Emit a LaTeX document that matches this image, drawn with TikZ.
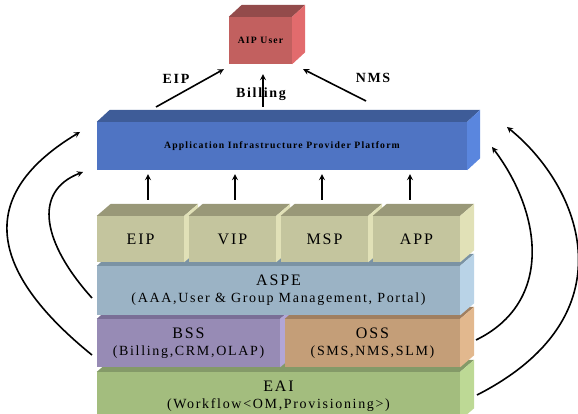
\documentclass[tikz,border=0pt]{standalone}
\usepackage{fontspec}
\setmainfont{Liberation Serif}
\newfontfamily\spacedfont[LetterSpace=12]{Liberation Serif}
\usetikzlibrary{positioning}

\definecolor{aipfront}{HTML}{C2605F}
\definecolor{aiptop}{HTML}{934B4B}
\definecolor{aipside}{HTML}{E26B6D}
\definecolor{apffront}{HTML}{4F74C3}
\definecolor{apftop}{HTML}{3E5C98}
\definecolor{apfside}{HTML}{5A86DE}
\definecolor{rowfront}{HTML}{C4C59E}
\definecolor{rowtop}{HTML}{999878}
\definecolor{rowside}{HTML}{E1E1B7}
\definecolor{aspefront}{HTML}{9BB3C5}
\definecolor{aspetop}{HTML}{7B93A4}
\definecolor{aspeside}{HTML}{B9D3E7}
\definecolor{bssfront}{HTML}{978BB5}
\definecolor{bsstop}{HTML}{7A6E96}
\definecolor{bssside}{HTML}{B2A6D6}
\definecolor{ossfront}{HTML}{C49E78}
\definecolor{osstop}{HTML}{A07F60}
\definecolor{ossside}{HTML}{E2B88E}
\definecolor{eaifront}{HTML}{A3BD7E}
\definecolor{eaitop}{HTML}{849A68}
\definecolor{eaiside}{HTML}{BDD995}

\newcommand{\bigtxt}{\fontsize{16}{20}\selectfont}
\newcommand{\smalltxt}{\fontsize{14}{18}\selectfont}
\newcommand{\toptxt}{\fontsize{14}{16}\selectfont\bfseries}
\newcommand{\tinytxt}{\fontsize{9.7}{12}\selectfont\bfseries}

\tikzstyle{layer} = [rectangle, inner sep=0pt, text centered, align=center, font=\spacedfont, minimum width=363pt, minimum height=48pt]
\tikzstyle{rowbox} = [rectangle, inner sep=0pt, text centered, font=\spacedfont\bigtxt, minimum width=87pt, minimum height=46pt, fill=rowfront]
\tikzstyle{arr} = [line width=1.6pt,->,>=stealth]

\begin{document}
\begin{tikzpicture}[x=1pt,y=1pt,node distance=92pt]
\useasboundingbox (0,0) rectangle (578,414);
\clip (0,0) rectangle (578,414);

% EAI
\node (eai) [layer, fill=eaifront] at (278.5,18) {\bigtxt EAI\\[5pt]\smalltxt (Workflow<OM,Provisioning>)};
\fill[eaitop] (eai.north west) -- ++(14,12) -- ([shift={(14,12)}]eai.north east) -- (eai.north east) -- cycle;
\fill[eaiside] (eai.north east) -- ++(14,12) -- ([shift={(14,12)}]eai.south east) -- (eai.south east) -- cycle;

% BSS and OSS
\node (bss) [layer, fill=bssfront, minimum width=183pt] at (188.5,71) {\bigtxt BSS\\[5pt]\smalltxt (Billing,CRM,OLAP)};
\fill[bsstop] (bss.north west) -- ++(14,12) -- ([shift={(14,12)}]bss.north east) -- (bss.north east) -- cycle;
\fill[bssside] (bss.north east) -- ++(14,12) -- ([shift={(14,12)}]bss.south east) -- (bss.south east) -- cycle;
\node (oss) [layer, fill=ossfront, minimum width=175pt, right of=bss, xshift=92pt] {\bigtxt OSS\\[5pt]\smalltxt (SMS,NMS,SLM)};
\fill[osstop] (oss.north west) -- ++(14,12) -- ([shift={(14,12)}]oss.north east) -- (oss.north east) -- cycle;
\fill[ossside] (oss.north east) -- ++(14,12) -- ([shift={(14,12)}]oss.south east) -- (oss.south east) -- cycle;

% ASPE
\node (aspe) [layer, fill=aspefront, minimum height=49pt] at (278.5,123.5) {\bigtxt ASPE\\[5pt]\smalltxt (AAA,User \& Group Management, Portal)};
\fill[aspetop] (aspe.north west) -- ++(14,12) -- ([shift={(14,12)}]aspe.north east) -- (aspe.north east) -- cycle;
\fill[aspeside] (aspe.north east) -- ++(14,12) -- ([shift={(14,12)}]aspe.south east) -- (aspe.south east) -- cycle;

% service row
\node (eipbox) [rowbox] at (140.5,175) {EIP};
\fill[rowtop] (eipbox.north west) -- ++(14,12) -- ([shift={(14,12)}]eipbox.north east) -- (eipbox.north east) -- cycle;
\fill[rowside] (eipbox.north east) -- ++(14,12) -- ([shift={(14,12)}]eipbox.south east) -- (eipbox.south east) -- cycle;
\node (vipbox) [rowbox, right of=eipbox] {VIP};
\fill[rowtop] (vipbox.north west) -- ++(14,12) -- ([shift={(14,12)}]vipbox.north east) -- (vipbox.north east) -- cycle;
\fill[rowside] (vipbox.north east) -- ++(14,12) -- ([shift={(14,12)}]vipbox.south east) -- (vipbox.south east) -- cycle;
\node (mspbox) [rowbox, right of=vipbox] {MSP};
\fill[rowtop] (mspbox.north west) -- ++(14,12) -- ([shift={(14,12)}]mspbox.north east) -- (mspbox.north east) -- cycle;
\fill[rowside] (mspbox.north east) -- ++(14,12) -- ([shift={(14,12)}]mspbox.south east) -- (mspbox.south east) -- cycle;
\node (appbox) [rowbox, right of=mspbox] {APP};
\fill[rowtop] (appbox.north west) -- ++(14,12) -- ([shift={(14,12)}]appbox.north east) -- (appbox.north east) -- cycle;
\fill[rowside] (appbox.north east) -- ++(14,12) -- ([shift={(14,12)}]appbox.south east) -- (appbox.south east) -- cycle;

% platform
\node (apf) [layer, fill=apffront, minimum width=370pt] at (282,268) {\tinytxt Application Infrastructure Provider Platform};
\fill[apftop] (apf.north west) -- ++(13,12) -- ([shift={(13,12)}]apf.north east) -- (apf.north east) -- cycle;
\fill[apfside] (apf.north east) -- ++(13,12) -- ([shift={(13,12)}]apf.south east) -- (apf.south east) -- cycle;

% user
\node (aip) [layer, fill=aipfront, minimum width=63pt, minimum height=47pt] at (260.5,373.5) {\tinytxt AIP User};
\fill[aiptop] (aip.north west) -- ++(13,12) -- ([shift={(13,12)}]aip.north east) -- (aip.north east) -- cycle;
\fill[aipside] (aip.north east) -- ++(13,12) -- ([shift={(13,12)}]aip.south east) -- (aip.south east) -- cycle;

% labels and arrows to the user
\node (eiplbl) [font=\spacedfont] at (176,335) {\toptxt EIP};
\node (billlbl) [font=\spacedfont] at (261,320) {\toptxt Billing};
\node (nmslbl) [font=\spacedfont] at (373,336) {\toptxt NMS};
\coordinate (eiptail) at (156,307);
\coordinate (billtail) at (263,307);
\coordinate (nmstail) at (366,313);
\draw [arr] (eiptail) -- ([shift={(-5,-5)}]aip.south west);
\draw [arr] (billtail) -- ([shift={(2.5,-10)}]aip.south);
\draw [arr] (nmstail) -- ([shift={(11,-5)}]aip.south east);

% arrows from the row
\draw [arr, shorten >=4pt] ([shift={(7.5,16)}]eipbox.north) -- ([xshift=7.5pt]eipbox.north |- apf.south);
\draw [arr, shorten >=4pt] ([shift={(2.5,16)}]vipbox.north) -- ([xshift=2.5pt]vipbox.north |- apf.south);
\draw [arr, shorten >=4pt] ([shift={(-2.5,16)}]mspbox.north) -- ([xshift=-2.5pt]mspbox.north |- apf.south);
\draw [arr, shorten >=4pt] ([shift={(-6.5,16)}]appbox.north) -- ([xshift=-6.5pt]appbox.north |- apf.south);

% side loops
\coordinate (lotail) at (92,59);
\coordinate (lohead) at (80,282);
\coordinate (litail) at (92,116);
\coordinate (lihead) at (83,242);
\coordinate (ritail) at (476,74);
\coordinate (rihead) at (492,267);
\coordinate (rotail) at (477,19);
\coordinate (rohead) at (507,287);
\draw [arr] (lotail) to[out=141, in=211, out looseness=1.43, in looseness=1.48] (lohead);
\draw [arr] (litail) to[out=132, in=201, out looseness=1.48, in looseness=1.11] (lihead);
\draw [arr] (ritail) to[out=26, in=-53, out looseness=1.15, in looseness=1.09] (rihead);
\draw [arr] (rotail) to[out=27, in=-39, out looseness=1.65, in looseness=0.91] (rohead);
\end{tikzpicture}
\end{document}
